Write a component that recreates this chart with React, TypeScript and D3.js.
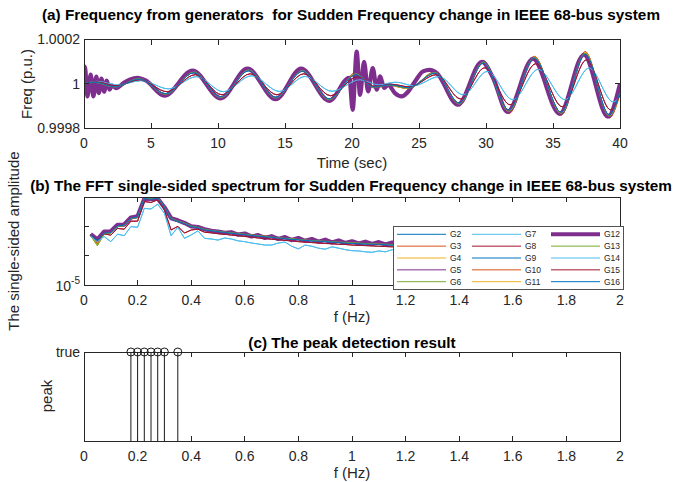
import React from 'react';
import * as d3 from 'd3';

const W = 673;
const H = 482;
const FONT = "'Liberation Sans', Arial, Helvetica, sans-serif";
const AX = '#262626';

// ---------- legend / series ----------
const genNames = ['G2', 'G3', 'G4', 'G5', 'G6', 'G7', 'G8', 'G9', 'G10', 'G11', 'G12', 'G13', 'G14', 'G15', 'G16'];
const genColors = ['#0072BD', '#D95319', '#EDB120', '#7E2F8E', '#77AC30', '#4DBEEE', '#A2142F', '#0072BD', '#D95319', '#EDB120', '#7E2F8E', '#77AC30', '#4DBEEE', '#A2142F', '#0072BD'];

// ---------- (a) frequency, time (s) of extrema and value (p.u.) ----------
const tMid = [0, 0.8, 2.3, 4.1, 6.1, 8.2, 10.2, 12.3, 14.3, 16.3, 18.3, 20.3, 21.6, 22.8, 24.2, 26.2, 28.0, 29.8, 31.7, 33.6, 35.6, 37.4, 39.2, 40];
const freqBlue = [1, 1.000007, 0.999986, 1.000021, 0.999955, 1.00005, 0.999941, 1.000059, 0.999939, 1.000056, 0.999932, 1.000041, 0.999985, 0.999995, 0.999982, 1.000048, 0.999913, 1.000094, 0.999882, 1.000116, 0.999872, 1.000134, 0.99986, 0.999965];
const freqOrange = [1, 1.000005, 0.999984, 1.000025, 0.999948, 1.000057, 0.999934, 1.000066, 0.999932, 1.000063, 0.999923, 1.00005, 0.999982, 0.999992, 0.999978, 1.000054, 0.999901, 1.000104, 0.999865, 1.000124, 0.999858, 1.000145, 0.999846, 0.999955];
const freqYellow = [1, 1.000006, 0.999985, 1.000024, 0.99995, 1.000055, 0.999936, 1.000064, 0.999934, 1.000061, 0.999926, 1.000047, 0.999983, 0.999993, 0.999979, 1.000052, 0.999904, 1.000101, 0.99987, 1.000121, 0.999862, 1.000141, 0.99985, 0.999958];
const freqGreen = [1, 1.000006, 0.999985, 1.000023, 0.999952, 1.000053, 0.999938, 1.000062, 0.999936, 1.000059, 0.999928, 1.000045, 0.999984, 0.999994, 0.99998, 1.000051, 0.999908, 1.000098, 0.999875, 1.000119, 0.999866, 1.000138, 0.999854, 0.99996];
const tRed = [0, 0.9, 2.4, 4.2, 6.2, 8.3, 10.3, 12.4, 14.4, 16.4, 18.4, 20.4, 21.7, 22.9, 24.3, 26.3, 28.1, 29.9, 31.8, 33.7, 35.7, 37.5, 39.3, 40];
const freqRed = [1, 1.000009, 0.999991, 1.000018, 0.999964, 1.000041, 0.99995, 1.000045, 0.99995, 1.000045, 0.999946, 1.000032, 0.999988, 0.999998, 0.999986, 1.000041, 0.999932, 1.000072, 0.999905, 1.00009, 0.999896, 1.000108, 0.999882, 0.99995];
const tLB = [0, 1.0, 2.5, 4.3, 6.3, 8.4, 10.4, 12.5, 14.6, 16.5, 18.5, 20.6, 22.0, 23.3, 24.6, 26.5, 28.3, 30.1, 32.0, 33.9, 35.9, 37.7, 39.5, 40];
const freqLB = [1, 1.000011, 0.999995, 1.000014, 0.999977, 1.000032, 0.999964, 1.000036, 0.999965, 1.000033, 0.999966, 1.000018, 0.999995, 1.000007, 0.999991, 1.000032, 0.99995, 1.000056, 0.999928, 1.000065, 0.999928, 1.000071, 0.999918, 0.999943];
const tG12 = [0, 0.07, 0.25, 0.5, 0.7, 0.92, 1.1, 1.3, 1.5, 1.7, 1.9, 2.1, 2.4, 3.0, 3.4, 4.0, 4.6, 6.0, 8.1, 10.2, 12.2, 14.3, 16.2, 18.3, 19.8, 20.05, 20.35, 20.6, 20.9, 21.2, 21.55, 21.85, 22.1, 22.4, 22.7, 23.2, 23.7, 24.2, 24.7, 25.3, 25.8, 26.3, 27.9, 29.7, 30.5, 31.6, 33.5, 35.5, 37.3, 39.1, 40];
const freqG12 = [1, 1.000077, 0.999943, 1.000041, 0.999943, 1.000032, 0.999958, 1.000023, 0.999964, 1.000014, 0.999973, 0.999992, 0.99998, 1.000005, 1.000018, 1.000027, 1.000015, 0.999946, 1.000059, 0.999934, 1.000068, 0.99993, 1.000068, 0.999923, 1.000027, 0.999882, 1.000145, 0.99995, 1.000099, 0.999965, 1.000071, 0.999973, 1.000033, 0.999981, 0.999995, 0.999958, 0.999943, 0.999965, 1.00001, 1.000056, 1.000063, 1.00005, 0.999905, 1.000099, 1.00003, 0.999873, 1.000113, 0.999864, 1.000131, 0.999851, 1];

// ---------- (b) FFT spectrum ----------
const fftFreq = [0.025, 0.05, 0.075, 0.1, 0.125, 0.15, 0.175, 0.2, 0.225, 0.25, 0.275, 0.3, 0.325, 0.35, 0.375, 0.4, 0.425, 0.45, 0.475, 0.5, 0.525, 0.55, 0.575, 0.6, 0.625, 0.65, 0.675, 0.7, 0.725, 0.75, 0.775, 0.8, 0.825, 0.85, 0.875, 0.9, 0.925, 0.95, 0.975, 1.0, 1.025, 1.05, 1.075, 1.1, 1.125, 1.15, 1.175, 1.2, 1.225, 1.25, 1.275, 1.3, 1.325, 1.35, 1.375, 1.4, 1.425, 1.45, 1.475, 1.5, 1.525, 1.55, 1.575, 1.6, 1.625, 1.65, 1.675, 1.7, 1.725, 1.75, 1.775, 1.8, 1.825, 1.85, 1.875, 1.9, 1.925, 1.95, 1.975, 2.0];
const fftBlue = [5.1e-4, 3.3e-4, 5.9e-4, 6.1e-4, 1.03e-3, 1.1e-3, 1.9e-3, 2.1e-3, 9.0e-3, 8.3e-3, 9.4e-3, 4.6e-3, 1.8e-3, 1.45e-3, 1.25e-3, 9.8e-4, 9.0e-4, 7.6e-4, 7.1e-4, 6.6e-4, 6.2e-4, 5.8e-4, 5.5e-4, 5.2e-4, 4.9e-4, 4.6e-4, 4.4e-4, 4.2e-4, 4.0e-4, 3.8e-4, 3.6e-4, 3.5e-4, 3.3e-4, 3.2e-4, 3.1e-4, 3.0e-4, 2.9e-4, 2.8e-4, 2.7e-4, 2.6e-4, 2.55e-4, 2.5e-4, 2.45e-4, 2.4e-4, 2.35e-4, 2.3e-4, 2.25e-4, 2.2e-4, 2.15e-4, 2.1e-4, 2.05e-4, 2.0e-4, 1.95e-4, 1.9e-4, 1.88e-4, 1.85e-4, 1.8e-4, 1.78e-4, 1.75e-4, 1.72e-4, 1.7e-4, 1.67e-4, 1.65e-4, 1.62e-4, 1.6e-4, 1.58e-4, 1.55e-4, 1.53e-4, 1.5e-4, 1.48e-4, 1.46e-4, 1.44e-4, 1.42e-4, 1.4e-4, 1.38e-4, 1.36e-4, 1.34e-4, 1.32e-4, 1.3e-4, 1.28e-4];
const fftOrange = [5.3e-4, 2.6e-4, 6.0e-4, 6.4e-4, 1.08e-3, 1.15e-3, 2.0e-3, 2.2e-3, 9.6e-3, 8.9e-3, 1.0e-2, 4.9e-3, 1.9e-3, 1.55e-3, 1.35e-3, 1.05e-3, 9.6e-4, 8.2e-4, 7.5e-4, 7.0e-4, 6.6e-4, 6.2e-4, 5.8e-4, 5.5e-4, 5.2e-4, 4.9e-4, 4.7e-4, 4.4e-4, 4.2e-4, 4.0e-4, 3.9e-4, 3.7e-4, 3.5e-4, 3.4e-4, 3.3e-4, 3.2e-4, 3.1e-4, 3.0e-4, 2.9e-4, 2.8e-4, 2.75e-4, 2.7e-4, 2.6e-4, 2.55e-4, 2.5e-4, 2.45e-4, 2.4e-4, 2.35e-4, 2.3e-4, 2.25e-4, 2.2e-4, 2.15e-4, 2.1e-4, 2.05e-4, 2.0e-4, 1.97e-4, 1.93e-4, 1.9e-4, 1.87e-4, 1.84e-4, 1.81e-4, 1.78e-4, 1.75e-4, 1.72e-4, 1.7e-4, 1.68e-4, 1.65e-4, 1.63e-4, 1.6e-4, 1.58e-4, 1.56e-4, 1.54e-4, 1.52e-4, 1.5e-4, 1.48e-4, 1.46e-4, 1.44e-4, 1.42e-4, 1.4e-4, 1.38e-4];
const fftYellow = [4.9e-4, 2.2e-4, 5.6e-4, 5.9e-4, 9.8e-4, 1.05e-3, 1.85e-3, 2.0e-3, 9.2e-3, 8.6e-3, 9.7e-3, 4.7e-3, 1.85e-3, 1.5e-3, 1.3e-3, 1.02e-3, 9.3e-4, 7.9e-4, 7.3e-4, 6.8e-4, 6.4e-4, 6.0e-4, 5.7e-4, 5.4e-4, 5.1e-4, 4.8e-4, 4.6e-4, 4.3e-4, 4.1e-4, 3.9e-4, 3.8e-4, 3.6e-4, 3.4e-4, 3.3e-4, 3.2e-4, 3.1e-4, 3.0e-4, 2.9e-4, 2.85e-4, 2.75e-4, 2.7e-4, 2.6e-4, 2.55e-4, 2.5e-4, 2.45e-4, 2.4e-4, 2.35e-4, 2.3e-4, 2.25e-4, 2.2e-4, 2.15e-4, 2.1e-4, 2.05e-4, 2.0e-4, 1.96e-4, 1.92e-4, 1.89e-4, 1.86e-4, 1.83e-4, 1.8e-4, 1.77e-4, 1.74e-4, 1.71e-4, 1.69e-4, 1.67e-4, 1.64e-4, 1.62e-4, 1.6e-4, 1.57e-4, 1.55e-4, 1.53e-4, 1.51e-4, 1.49e-4, 1.47e-4, 1.45e-4, 1.43e-4, 1.41e-4, 1.39e-4, 1.37e-4, 1.35e-4];
const fftRed = [5.0e-4, 3.4e-4, 5.6e-4, 5.0e-4, 8.5e-4, 8.0e-4, 1.5e-3, 1.5e-3, 7.0e-3, 6.5e-3, 8.0e-3, 3.6e-3, 7.5e-4, 1.0e-3, 5.9e-4, 7.5e-4, 8.0e-4, 6.3e-4, 6.0e-4, 5.6e-4, 5.4e-4, 5.0e-4, 4.8e-4, 4.5e-4, 4.3e-4, 4.0e-4, 3.9e-4, 3.6e-4, 3.5e-4, 3.3e-4, 3.2e-4, 3.0e-4, 2.9e-4, 2.8e-4, 2.7e-4, 2.6e-4, 2.55e-4, 2.45e-4, 2.4e-4, 2.3e-4, 2.25e-4, 2.2e-4, 2.15e-4, 2.1e-4, 2.05e-4, 2.0e-4, 1.96e-4, 1.92e-4, 1.88e-4, 1.84e-4, 1.8e-4, 1.77e-4, 1.74e-4, 1.71e-4, 1.68e-4, 1.65e-4, 1.62e-4, 1.6e-4, 1.57e-4, 1.55e-4, 1.52e-4, 1.5e-4, 1.48e-4, 1.46e-4, 1.44e-4, 1.42e-4, 1.4e-4, 1.38e-4, 1.36e-4, 1.34e-4, 1.32e-4, 1.3e-4, 1.28e-4, 1.27e-4, 1.25e-4, 1.24e-4, 1.22e-4, 1.21e-4, 1.2e-4, 1.18e-4];
const fftLB = [4.5e-4, 3.0e-4, 4.5e-4, 3.0e-4, 5.4e-4, 4.8e-4, 9.8e-4, 9.3e-4, 4.1e-3, 3.9e-3, 5.7e-3, 2.8e-3, 4.8e-4, 9.3e-4, 3.9e-4, 5.1e-4, 7.0e-4, 3.9e-4, 3.7e-4, 3.4e-4, 4.0e-4, 3.7e-4, 3.2e-4, 3.0e-4, 2.7e-4, 2.5e-4, 2.3e-4, 2.3e-4, 2.7e-4, 2.9e-4, 2.1e-4, 1.7e-4, 2.3e-4, 2.1e-4, 1.8e-4, 1.66e-4, 2.0e-4, 1.8e-4, 1.6e-4, 1.48e-4, 1.45e-4, 1.35e-4, 1.3e-4, 1.45e-4, 1.35e-4, 1.6e-4, 1.5e-4, 1.4e-4, 1.35e-4, 1.3e-4, 1.28e-4, 1.25e-4, 1.2e-4, 1.18e-4, 1.15e-4, 1.12e-4, 1.1e-4, 1.08e-4, 1.05e-4, 1.03e-4, 1.0e-4, 9.8e-5, 9.6e-5, 9.5e-5, 9.3e-5, 9.2e-5, 9.0e-5, 8.8e-5, 8.7e-5, 8.5e-5, 8.4e-5, 8.3e-5, 8.2e-5, 8.0e-5, 7.9e-5, 7.8e-5, 7.7e-5, 7.6e-5, 7.5e-5, 7.4e-5];
const fftG12 = [5.4e-4, 3.6e-4, 6.6e-4, 6.8e-4, 1.12e-3, 1.15e-3, 2.0e-3, 2.2e-3, 8.8e-3, 8.4e-3, 8.8e-3, 4.5e-3, 1.9e-3, 1.6e-3, 1.3e-3, 1.0e-3, 9.5e-4, 8.0e-4, 7.0e-4, 6.6e-4, 6.0e-4, 6.3e-4, 5.2e-4, 5.7e-4, 4.5e-4, 5.0e-4, 4.0e-4, 4.6e-4, 3.7e-4, 4.3e-4, 3.4e-4, 4.0e-4, 3.2e-4, 3.7e-4, 3.0e-4, 3.5e-4, 2.8e-4, 3.3e-4, 2.7e-4, 3.1e-4, 2.6e-4, 3.0e-4, 2.5e-4, 2.9e-4, 2.4e-4, 2.8e-4, 2.3e-4, 2.7e-4, 2.2e-4, 2.6e-4, 2.1e-4, 2.5e-4, 2.0e-4, 2.4e-4, 1.95e-4, 2.3e-4, 1.9e-4, 2.2e-4, 1.85e-4, 2.1e-4, 1.8e-4, 2.05e-4, 1.75e-4, 2.0e-4, 1.7e-4, 1.95e-4, 1.65e-4, 1.9e-4, 1.6e-4, 1.85e-4, 1.55e-4, 1.8e-4, 1.5e-4, 1.75e-4, 1.45e-4, 1.7e-4, 1.42e-4, 1.65e-4, 1.4e-4, 1.6e-4];

// ---------- (c) peak detection ----------
const peakFreq = [0.175, 0.2, 0.225, 0.25, 0.275, 0.3, 0.35];
const peakFlag = [1, 1, 1, 1, 1, 1, 1];

// ---------- ticks ----------
const xTicksA = [0, 5, 10, 15, 20, 25, 30, 35, 40];
const xTickLabelsA = ['0', '5', '10', '15', '20', '25', '30', '35', '40'];
const yTicksA = [0.9998, 1, 1.0002];
const yTickLabelsA = ['0.9998', '1', '1.0002'];
const xTicksB = [0, 0.2, 0.4, 0.6, 0.8, 1, 1.2, 1.4, 1.6, 1.8, 2];
const xTickLabelsB = ['0', '0.2', '0.4', '0.6', '0.8', '1', '1.2', '1.4', '1.6', '1.8', '2'];
const yTicksB = [1e-5, 1e-4, 1e-3];
const yTicksC = [1];
const yTickLabelsC = ['true'];

const L = 84, R = 620;
const TL = 5;

function Frame({ y0, y1 }: { y0: number; y1: number }) {
  return <rect x={L} y={y0} width={R - L} height={y1 - y0} fill="none" stroke={AX} strokeWidth={1} shapeRendering="crispEdges" />;
}

function XTicks({ scale, ticks, labels, y0, y1 }: any) {
  return (
    <g>
      {ticks.map((t: number, i: number) => {
        const x = scale(t);
        return (
          <g key={i}>
            <line x1={x} x2={x} y1={y1} y2={y1 - TL} stroke={AX} shapeRendering="crispEdges" />
            <line x1={x} x2={x} y1={y0} y2={y0 + TL} stroke={AX} shapeRendering="crispEdges" />
            <text x={x} y={y1 + 15} dy="0.35em" textAnchor="middle" fontSize={14} fill={AX} fontFamily={FONT}>{labels[i]}</text>
          </g>
        );
      })}
    </g>
  );
}

function YTicks({ scale, ticks, labels }: any) {
  return (
    <g>
      {ticks.map((t: number, i: number) => {
        const y = scale(t);
        return (
          <g key={i}>
            <line x1={L} x2={L + TL} y1={y} y2={y} stroke={AX} shapeRendering="crispEdges" />
            <line x1={R} x2={R - TL} y1={y} y2={y} stroke={AX} shapeRendering="crispEdges" />
            {labels && labels[i] ? (
              <text x={L - 4} y={y} dy="0.35em" textAnchor="end" fontSize={14} fill={AX} fontFamily={FONT}>{labels[i]}</text>
            ) : null}
          </g>
        );
      })}
    </g>
  );
}

export default function App() {
  const xA = d3.scaleLinear().domain([0, 40]).range([L, R]);
  const yA = d3.scaleLinear().domain([0.9998, 1.0002]).range([128, 39.5]);
  const xB = d3.scaleLinear().domain([0, 2]).range([L, R]);
  const yB = d3.scaleLog().domain([1e-5, 1e-2]).range([285, 197]);
  const yC = d3.scaleLinear().domain([0, 1]).range([441, 352]);

  const freqSeries = [
    { t: tMid, v: freqBlue }, { t: tMid, v: freqOrange }, { t: tMid, v: freqYellow }, { t: tMid, v: freqBlue },
    { t: tMid, v: freqGreen }, { t: tLB, v: freqLB }, { t: tRed, v: freqRed }, { t: tMid, v: freqBlue },
    { t: tMid, v: freqOrange }, { t: tMid, v: freqYellow }, { t: tG12, v: freqG12 }, { t: tMid, v: freqGreen },
    { t: tLB, v: freqLB }, { t: tRed, v: freqRed }, { t: tMid, v: freqBlue },
  ];
  const fftSeries = [fftBlue, fftOrange, fftYellow, fftBlue, fftYellow, fftLB, fftRed, fftBlue, fftOrange, fftYellow, fftG12, fftYellow, fftLB, fftRed, fftBlue];

  const pathA = (t: number[], v: number[]) =>
    d3.line<number>().x((_, i) => xA(t[i])).y((d) => yA(d)).curve(d3.curveMonotoneX)(v) || '';
  const pathB = (v: number[]) =>
    d3.line<number>().x((_, i) => xB(fftFreq[i])).y((d) => yB(d))(v) || '';

  const legX = [397, 472, 551];
  const legW = 49;

  return (
    <svg width={W} height={H} style={{ position: 'absolute', left: 0, top: 0, background: '#fff' }} fontFamily={FONT}>
      <defs>
        <clipPath id="clipA"><rect x={L} y={39.5} width={R - L} height={128 - 39.5} /></clipPath>
        <clipPath id="clipB"><rect x={L} y={197} width={R - L} height={285 - 197} /></clipPath>
      </defs>
      <rect x={0} y={0} width={W} height={H} fill="#fff" />

      {/* ---------- (a) ---------- */}
      <text x={351} y={15} dy="0.35em" textAnchor="middle" fontSize={15.3} fontWeight="bold" fill="#000" style={{ whiteSpace: 'pre' }}>
        {'(a) Frequency from generators  for Sudden Frequency change in IEEE 68-bus system'}
      </text>
      <g clipPath="url(#clipA)">
        {freqSeries.map((s, i) => (
          <path key={i} d={pathA(s.t, s.v)} fill="none" stroke={genColors[i]} strokeWidth={genNames[i] === 'G12' ? 4.2 : 1} strokeLinejoin="round" />
        ))}
      </g>
      <Frame y0={39.5} y1={128} />
      <XTicks scale={xA} ticks={xTicksA} labels={xTickLabelsA} y0={39.5} y1={128} />
      <YTicks scale={yA} ticks={yTicksA} labels={yTickLabelsA} />
      <text x={352} y={163} dy="0.35em" textAnchor="middle" fontSize={15} fill={AX}>Time (sec)</text>
      <text transform="translate(27,84) rotate(-90)" dy="0.35em" textAnchor="middle" fontSize={15} fill={AX}>Freq (p.u.)</text>

      {/* ---------- (b) ---------- */}
      <text x={351} y={186} dy="0.35em" textAnchor="middle" fontSize={15.3} fontWeight="bold" fill="#000">
        (b) The FFT single-sided spectrum for Sudden Frequency change in IEEE 68-bus system
      </text>
      <g clipPath="url(#clipB)">
        {fftSeries.map((v, i) => (
          <path key={i} d={pathB(v)} fill="none" stroke={genColors[i]} strokeWidth={genNames[i] === 'G12' ? 4.2 : 1} strokeLinejoin="round" />
        ))}
      </g>
      <Frame y0={197} y1={285} />
      <XTicks scale={xB} ticks={xTicksB} labels={xTickLabelsB} y0={197} y1={285} />
      <YTicks scale={yB} ticks={yTicksB} labels={null} />
      <text x={L - 4} y={yB(1e-5) + 6} textAnchor="end" fontSize={14} fill={AX}>
        10<tspan dy={-7} fontSize={10}>-5</tspan>
      </text>
      <text x={352} y={317} dy="0.35em" textAnchor="middle" fontSize={15} fill={AX}>f (Hz)</text>
      <text transform="translate(14,241) rotate(-90)" dy="0.35em" textAnchor="middle" fontSize={15} fill={AX}>The single-sided amplitude</text>

      {/* legend */}
      <rect x={393} y={226} width={230} height={63} fill="#fff" stroke={AX} strokeWidth={0.8} shapeRendering="crispEdges" />
      {genNames.map((g, i) => {
        const col = Math.floor(i / 5);
        const row = i % 5;
        const y = 234.3 + row * 11.85;
        return (
          <g key={g}>
            <line x1={legX[col]} x2={legX[col] + legW} y1={y} y2={y} stroke={genColors[i]} strokeWidth={g === 'G12' ? 4 : 1} />
            <text x={legX[col] + legW + 4} y={y} dy="0.35em" fontSize={8.5} fill={AX}>{g}</text>
          </g>
        );
      })}

      {/* ---------- (c) ---------- */}
      <text x={352} y={343} dy="0.35em" textAnchor="middle" fontSize={15.3} fontWeight="bold" fill="#000">
        (c) The peak detection result
      </text>
      {peakFreq.map((f, i) => (
        <line key={'s' + i} x1={xB(f)} x2={xB(f)} y1={yC(0)} y2={yC(peakFlag[i])} stroke="#1a1a1a" strokeWidth={1} />
      ))}
      <Frame y0={352} y1={441} />
      {peakFreq.map((f, i) => (
        <circle key={'c' + i} cx={xB(f)} cy={yC(peakFlag[i])} r={4} fill="none" stroke="#1a1a1a" strokeWidth={1} />
      ))}
      <XTicks scale={xB} ticks={xTicksB} labels={xTickLabelsB} y0={352} y1={441} />
      <YTicks scale={yC} ticks={yTicksC} labels={yTickLabelsC} />
      <text x={352} y={473} dy="0.35em" textAnchor="middle" fontSize={15} fill={AX}>f (Hz)</text>
      <text transform="translate(47,396) rotate(-90)" dy="0.35em" textAnchor="middle" fontSize={15} fill={AX}>peak</text>
    </svg>
  );
}
